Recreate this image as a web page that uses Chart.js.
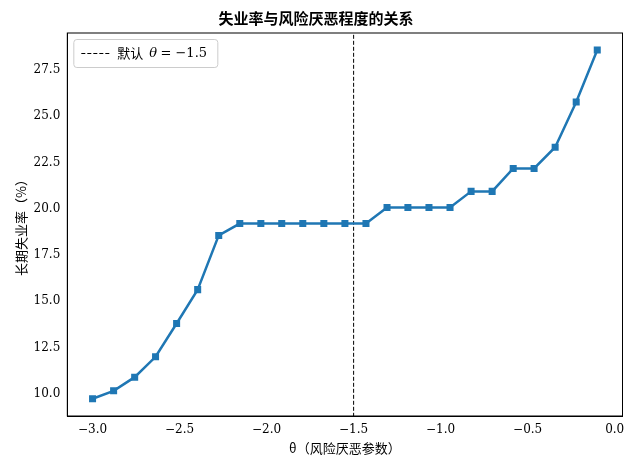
<!DOCTYPE html>
<html>
<head>
<meta charset="utf-8">
<script src="https://cdn.jsdelivr.net/npm/chart.js@4"></script>
<style>
  body { margin: 0; background: #fff; }
  #wrap { width: 629px; height: 470px; }
</style>
</head>
<body>
<div id="wrap"><canvas id="chart"></canvas></div>
<script>
// theta values: 25 evenly spaced points from -3.0 to -0.1
const thetaValues = [-3.0, -2.879, -2.758, -2.638, -2.517, -2.396, -2.275, -2.154, -2.033, -1.913,
    -1.792, -1.671, -1.55, -1.429, -1.308, -1.188, -1.067, -0.946, -0.825, -0.704,
    -0.583, -0.463, -0.342, -0.221, -0.1];
const unemployment = [9.73, 10.16, 10.9, 12.0, 13.8, 15.63, 18.56, 19.2, 19.2, 19.2,
    19.2, 19.2, 19.2, 19.2, 20.07, 20.07, 20.07, 20.07, 20.94, 20.94,
    22.18, 22.18, 23.33, 25.77, 28.58];
const defaultTheta = -1.5;
const xTicks = [-3.0, -2.5, -2.0, -1.5, -1.0, -0.5, 0.0];
const yTicks = [10.0, 12.5, 15.0, 17.5, 20.0, 22.5, 25.0, 27.5];

const serif = "'DejaVu Serif', 'Liberation Serif', serif";
const cjk = "'Noto Sans CJK SC', sans-serif";

function fmt(v) {
    const s = v.toFixed(1);
    return v < 0 ? '\u2212' + s.slice(1) : s;
}

// legend box in the top-left corner of the plot
const legendBox = {
    id: 'legendBox',
    afterDraw(chart) {
        const ctx = chart.ctx, a = chart.chartArea;
        const x = a.left + 6, y = a.top + 6, w = 144, h = 28;
        ctx.save();
        ctx.fillStyle = 'rgba(255,255,255,0.8)';
        ctx.strokeStyle = '#ccc';
        ctx.lineWidth = 1;
        ctx.beginPath();
        ctx.roundRect(x + 0.5, y + 0.5, w, h, 3);
        ctx.fill();
        ctx.stroke();
        ctx.strokeStyle = '#000';
        ctx.setLineDash([4, 2]);
        ctx.beginPath();
        ctx.moveTo(x + 8, y + 14.5);
        ctx.lineTo(x + 36, y + 14.5);
        ctx.stroke();
        ctx.setLineDash([]);
        ctx.fillStyle = '#000';
        ctx.textBaseline = 'middle';
        ctx.font = '13px ' + cjk;
        ctx.fillText('默认', x + 44, y + 14);
        ctx.font = 'italic 13px ' + serif;
        ctx.fillText('θ', x + 76, y + 15);
        ctx.font = '13px ' + serif;
        ctx.fillText(' = \u22121.5', x + 83, y + 15);
        ctx.restore();
    }
};

new Chart(document.getElementById('chart'), {
    type: 'line',
    data: {
        datasets: [{
            label: 'unemployment',
            data: thetaValues.map((t, i) => ({ x: t, y: unemployment[i] })),
            borderColor: '#1f77b4',
            backgroundColor: '#1f77b4',
            borderWidth: 2.5,
            pointStyle: 'rect',
            pointRadius: 3.2,
            tension: 0
        }, {
            label: 'default',
            data: [{ x: defaultTheta, y: 0 }, { x: defaultTheta, y: 40 }],
            borderColor: '#000',
            borderWidth: 1,
            borderDash: [4, 2],
            pointRadius: 0
        }]
    },
    options: {
        responsive: true,
        maintainAspectRatio: false,
        animation: false,
        layout: { padding: { top: 7, right: 6, left: 9, bottom: 10 } },
        plugins: {
            legend: { display: false },
            tooltip: { enabled: false },
            title: {
                display: true,
                text: '失业率与风险厌恶程度的关系',
                color: '#000',
                font: { family: cjk, size: 15, weight: 'bold' },
                padding: { top: 2, bottom: 6 }
            }
        },
        scales: {
            x: {
                type: 'linear',
                min: -3.145,
                max: 0.045,
                afterBuildTicks: axis => { axis.ticks = xTicks.map(v => ({ value: v })); },
                ticks: { color: '#000', font: { family: serif, size: 12 }, callback: v => fmt(v) },
                grid: { display: false, drawTicks: true, tickLength: 4 },
                border: { color: '#000' },
                title: {
                    display: true,
                    text: 'θ（风险厌恶参数）',
                    color: '#000',
                    font: { family: cjk, size: 13 },
                    padding: { top: 0 }
                }
            },
            y: {
                min: 8.8,
                max: 29.5,
                afterBuildTicks: axis => { axis.ticks = yTicks.map(v => ({ value: v })); },
                ticks: { color: '#000', font: { family: serif, size: 12 }, callback: v => v.toFixed(1) },
                grid: { display: false, drawTicks: true, tickLength: 4 },
                border: { color: '#000' },
                title: {
                    display: true,
                    text: '长期失业率（%）',
                    color: '#000',
                    font: { family: cjk, size: 13 },
                    padding: { bottom: 2 }
                }
            }
        }
    },
    plugins: [legendBox, {
        id: 'frame',
        afterDraw(chart) {
            const ctx = chart.ctx, a = chart.chartArea;
            ctx.save();
            ctx.strokeStyle = '#000';
            ctx.lineWidth = 1;
            ctx.strokeRect(a.left, a.top, a.right - a.left, a.bottom - a.top);
            ctx.restore();
        }
    }]
});
</script>
</body>
</html>
